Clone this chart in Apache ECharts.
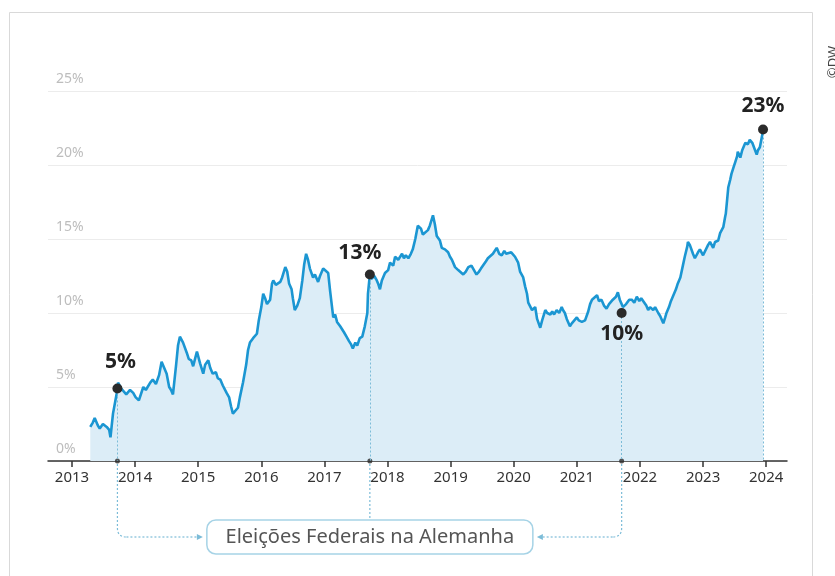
<!DOCTYPE html>
<html><head><meta charset="utf-8">
<script src="https://cdn.jsdelivr.net/npm/echarts@6/dist/echarts.min.js"></script>
<style>html,body{margin:0;padding:0;background:#fff}#c{width:835px;height:576px}</style>
</head><body><div id="c"></div>
<script>
// ---- data ----
const years = [
2013.29,2013.33,2013.36,2013.41,2013.44,2013.49,2013.55,2013.59,2013.61,2013.63,2013.65,2013.71,2013.73,2013.78,2013.81,2013.86,2013.92,2013.97,
2014.01,2014.06,2014.13,2014.17,2014.24,2014.28,2014.33,2014.38,2014.42,2014.46,2014.50,2014.54,2014.57,2014.60,2014.65,2014.68,2014.71,2014.76,2014.82,2014.85,2014.89,2014.92,2014.95,2014.98,
2015.00,2015.03,2015.08,2015.11,2015.16,2015.19,2015.23,2015.28,2015.31,2015.35,2015.39,2015.45,2015.49,2015.52,2015.55,2015.58,2015.63,2015.66,2015.71,2015.76,2015.79,2015.82,2015.87,2015.93,2015.96,
2016.00,2016.03,2016.06,2016.09,2016.14,2016.17,2016.19,2016.23,2016.26,2016.30,2016.33,2016.38,2016.41,2016.44,2016.48,2016.50,2016.53,2016.57,2016.61,2016.65,2016.68,2016.71,2016.74,2016.77,2016.82,2016.85,2016.90,2016.93,2016.98,
2017.01,2017.06,2017.09,2017.14,2017.17,2017.20,2017.25,2017.28,2017.31,2017.35,2017.39,2017.42,2017.45,2017.49,2017.52,2017.56,2017.60,2017.64,2017.68,2017.69,2017.72,2017.74,2017.79,2017.83,2017.85,2017.88,2017.91,2017.96,
2018.01,2018.04,2018.09,2018.12,2018.17,2018.23,2018.26,2018.29,2018.33,2018.37,2018.40,2018.44,2018.48,2018.53,2018.56,2018.59,2018.64,2018.67,2018.72,2018.75,2018.78,2018.83,2018.86,2018.91,2018.96,2018.99,
2019.02,2019.07,2019.12,2019.15,2019.20,2019.24,2019.28,2019.33,2019.37,2019.41,2019.45,2019.48,2019.51,2019.56,2019.59,2019.62,2019.67,2019.73,2019.77,2019.81,2019.85,2019.88,2019.91,2019.96,2019.99,
2020.02,2020.07,2020.10,2020.15,2020.18,2020.21,2020.23,2020.26,2020.29,2020.31,2020.34,2020.37,2020.42,2020.45,2020.50,2020.53,2020.58,2020.61,2020.64,2020.68,2020.72,2020.76,2020.78,2020.81,2020.84,2020.89,2020.92,2020.96,
2021.00,2021.03,2021.08,2021.13,2021.18,2021.21,2021.24,2021.27,2021.32,2021.35,2021.39,2021.43,2021.47,2021.51,2021.54,2021.57,2021.62,2021.65,2021.68,2021.73,2021.78,2021.83,2021.87,2021.91,2021.95,2021.99,
2022.02,2022.05,2022.10,2022.13,2022.16,2022.21,2022.24,2022.29,2022.32,2022.37,2022.40,2022.42,2022.46,2022.49,2022.52,2022.57,2022.60,2022.64,2022.68,2022.71,2022.75,2022.76,2022.79,2022.84,2022.87,2022.92,2022.95,
2023.00,2023.03,2023.08,2023.11,2023.16,2023.19,2023.24,2023.27,2023.32,2023.35,2023.36,2023.38,2023.40,2023.43,2023.45,2023.48,2023.51,2023.54,2023.55,2023.59,2023.62,2023.67,2023.71,2023.74,2023.78,2023.81,2023.85,2023.87,2023.90,2023.95
];
const values = [
2.3,2.6,2.9,2.4,2.2,2.5,2.3,2.1,1.6,2.4,3.2,4.6,5.3,4.9,4.8,4.5,4.8,4.6,
4.3,4.1,5.0,4.8,5.3,5.5,5.2,5.8,6.7,6.3,5.9,5.0,4.8,4.5,6.5,7.8,8.4,8.0,7.3,6.9,6.8,6.4,6.9,7.4,
7.5,6.6,5.9,6.5,6.8,6.3,5.9,6.0,5.6,5.5,5.1,4.6,4.3,3.7,3.2,3.3,3.6,4.3,5.3,6.5,7.5,8.0,8.3,8.6,9.5,
10.4,11.3,11.0,10.6,10.9,12.0,12.2,11.9,11.8,12.1,12.4,13.1,12.8,12.0,11.6,11.0,10.2,10.5,11.0,12.2,13.3,14.0,13.6,13.0,12.4,12.6,12.1,12.5,13.0,
12.9,12.7,11.5,9.7,9.9,9.4,9.1,9.2,8.7,8.4,8.1,7.9,7.6,8.0,7.8,8.3,8.4,9.1,10.0,11.3,12.6,12.3,12.5,12.2,12.0,11.6,12.2,12.7,
12.9,13.4,13.2,13.8,13.6,14.0,13.7,13.9,13.7,14.0,14.3,15.0,15.9,15.7,15.3,15.4,15.6,15.9,16.6,16.0,15.2,14.9,14.4,14.3,14.1,13.8,
13.6,13.1,12.9,13.0,12.6,12.8,13.1,13.2,12.9,12.6,12.8,13.0,13.1,13.5,13.7,13.6,14.0,14.4,14.0,13.9,14.2,14.0,14.1,14.1,14.0,
13.8,13.4,12.8,12.4,11.8,11.3,10.7,10.6,10.2,10.3,10.4,9.6,9.0,9.5,10.2,10.0,9.9,10.1,9.9,10.2,10.0,10.4,10.2,10.0,9.6,9.1,9.3,9.5,
9.7,9.5,9.4,9.5,10.1,10.6,10.9,10.8,11.2,10.8,10.9,10.5,10.3,10.6,10.5,10.9,11.1,11.4,10.9,10.4,10.6,10.9,10.9,10.7,11.1,10.8,
11.0,10.9,10.5,10.2,10.4,10.2,10.4,10.0,9.8,9.3,9.7,10.0,10.4,10.8,11.1,11.6,12.0,12.4,13.2,13.8,14.5,14.8,14.6,14.0,13.7,14.1,14.3,
13.9,14.0,14.6,14.8,14.4,14.8,14.9,15.4,15.8,16.5,16.7,17.6,18.5,19.0,19.4,19.8,20.2,20.6,20.9,20.5,21.0,21.5,21.4,21.7,21.5,21.4,20.7,21.0,21.2,22.3
];
const yearTicks = [2013,2014,2015,2016,2017,2018,2019,2020,2021,2022,2023,2024];
const highlightX = [2013.72, 2017.72, 2021.71, 2023.95];
const highlightY = [4.9, 12.6, 10.0, 22.4];
const highlightLabels = ['5%', '13%', '10%', '23%'];
const electionX = [2013.72, 2017.72, 2021.71];
const boxText = 'Eleições Federais na Alemanha';
const credit = '©DW';

// ---- styles ----
const labelOffsets = [[3,-26],[-10,-22],[0,21],[0,-23]];
const F = '"Noto Sans","Open Sans",sans-serif';
const LINE = '#1b96d2', AREA = '#dcedf7', DOT = '#2b2b2b', GUIDE = '#7cbcd8';

const chart = echarts.init(document.getElementById('c'), null, {renderer:'canvas'});
chart.setOption({
  animation:false,
  backgroundColor:'#fff',
  grid:{left:48, right:48, top:91, bottom:115},
  xAxis:{type:'value', min:2012.62, max:2024.33,
    axisLine:{show:true, onZero:false, lineStyle:{color:'#333', width:1.5}},
    axisTick:{show:true, customValues:yearTicks, length:6, lineStyle:{color:'#333', width:1.5}},
    axisLabel:{customValues:yearTicks, color:'#333', fontSize:15, fontFamily:F, margin:9,
      formatter:v=>String(Math.round(v))},
    splitLine:{show:false}},
  yAxis:{type:'value', min:0, max:25, interval:5,
    axisLine:{show:false}, axisTick:{show:false},
    axisLabel:{inside:true, margin:8, verticalAlign:'bottom', padding:[0,0,5,0], color:'#bdbdbd',
      fontSize:14, fontFamily:F, formatter:'{value}%'},
    splitLine:{lineStyle:{color:'#ececec', width:1}}},
  series:[
    {type:'line', data:years.map((y,i)=>[y, values[i]]), symbol:'none', z:2,
     lineStyle:{color:LINE, width:2.6}, areaStyle:{color:AREA, opacity:1}},
    {type:'scatter', z:4, clip:false, symbolSize:5, itemStyle:{color:DOT},
     data:electionX.map(x=>[x,0])},
    {type:'scatter', z:5, clip:false, symbolSize:10, itemStyle:{color:DOT, opacity:1},
     data:highlightX.map((x,i)=>({value:[x, highlightY[i]],
       label:{show:true, formatter:highlightLabels[i], position:'inside', offset:labelOffsets[i],
         color:'#222', fontSize:21, fontWeight:'bold', fontFamily:F}})),
     markLine:{silent:true, symbol:['none','none'], label:{show:false},
       lineStyle:{type:[2,2], color:GUIDE, width:1},
       data:highlightX.map((x,i)=>[{coord:[x, highlightY[i]]},{coord:[x,0]}])}}
  ]
});

// connectors below the axis, positioned through the axis scale
const axisY = chart.convertToPixel({gridIndex:0},[2013,0])[1];
const px = electionX.map(x=>chart.convertToPixel({gridIndex:0},[x,0])[0]);
const boxW = 326, boxH = 34, boxTop = axisY + 59;
const boxL = px[1] - boxW/2, boxR = px[1] + boxW/2, midY = boxTop + boxH/2;
const dash = {stroke:GUIDE, lineWidth:1.2, lineDash:[2,2], fill:null};
const r = 9;
chart.setOption({graphic:[
  {type:'rect', shape:{x:9.5, y:12.5, width:803, height:600}, style:{fill:null, stroke:'#d9d9d9', lineWidth:1}, z:-1},
  {type:'line', shape:{x1:px[0], y1:axisY+3, x2:px[0], y2:midY-r}, style:dash},
  {type:'bezierCurve', shape:{x1:px[0], y1:midY-r, cpx1:px[0], cpy1:midY, x2:px[0]+r, y2:midY}, style:dash},
  {type:'line', shape:{x1:px[0]+r, y1:midY, x2:boxL-9, y2:midY}, style:dash},
  {type:'line', shape:{x1:px[1], y1:axisY+3, x2:px[1], y2:boxTop}, style:dash},
  {type:'line', shape:{x1:px[2], y1:axisY+3, x2:px[2], y2:midY-r}, style:dash},
  {type:'bezierCurve', shape:{x1:px[2], y1:midY-r, cpx1:px[2], cpy1:midY, x2:px[2]-r, y2:midY}, style:dash},
  {type:'line', shape:{x1:px[2]-r, y1:midY, x2:boxR+9, y2:midY}, style:dash},
  {type:'polygon', shape:{points:[[boxL-4,midY],[boxL-10,midY-3],[boxL-10,midY+3]]}, style:{fill:GUIDE}},
  {type:'polygon', shape:{points:[[boxR+4,midY],[boxR+10,midY-3],[boxR+10,midY+3]]}, style:{fill:GUIDE}},
  {type:'rect', shape:{x:boxL, y:boxTop, width:boxW, height:boxH, r:9}, style:{fill:'#fff', stroke:'#a6d3e6', lineWidth:1.5}},
  {type:'text', x:px[1], y:midY, style:{text:boxText, fill:'#555', font:`20px ${F}`, align:'center', verticalAlign:'middle'}},
  {type:'text', x:833, y:62, rotation:Math.PI/2, style:{text:credit, fill:'#444', font:`13px ${F}`, align:'center', verticalAlign:'middle'}}
]});
</script></body></html>
